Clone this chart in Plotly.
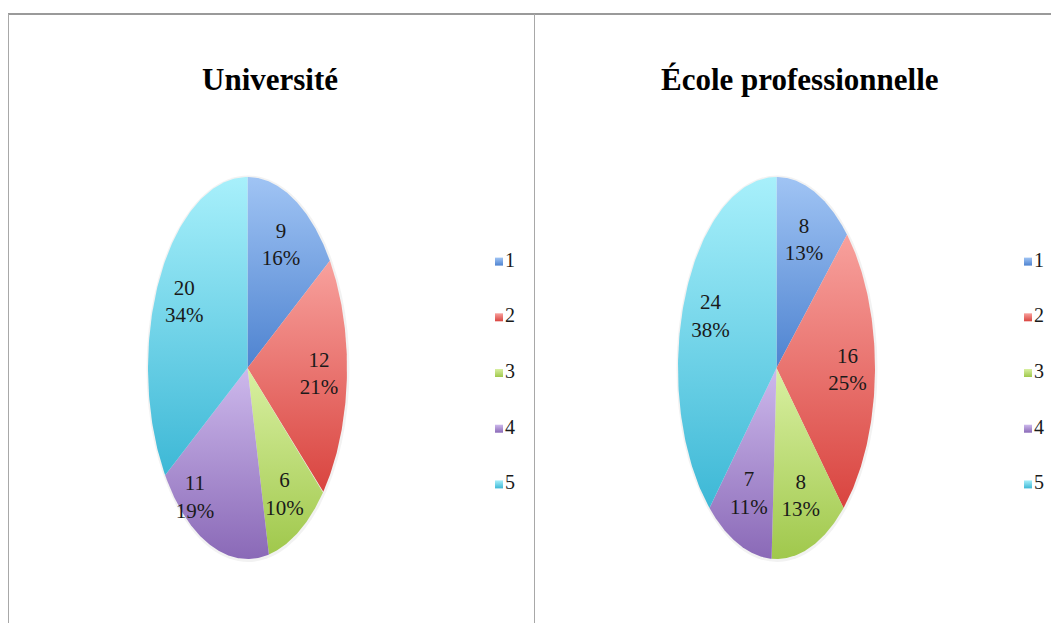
import numpy as np
import plotly.graph_objects as go

# ---------------- data ----------------
categories = ["1", "2", "3", "4", "5"]
universite = [9, 12, 6, 11, 20]
ecole = [8, 16, 8, 7, 24]
titles = ["Université", "École professionnelle"]

# ---------------- style / layout ----------------
W, H = 1051, 623
light = ["#A0C4F4", "#F8A19D", "#D9F0A2", "#CDB9EC", "#A8F0FB"]
dark = ["#4E83D0", "#D9443F", "#A0C84C", "#8A69B7", "#3DB8D6"]
pies = [
    dict(cx=247.5, cy=368, rx=99.5, ry=191, title_x=270, legend_x=499),
    dict(cx=776.5, cy=368, rx=98.5, ry=191, title_x=800, legend_x=1028),
]
label_r = 0.72
label_shift = {(0, 2): (0, 10), (0, 3): (-26, 3)}  # pixel nudges for crowded labels
legend_cy, legend_step = 373, 55.7
font_family = "Liberation Serif"

fig = go.Figure()

for p_i, (vals, geo) in enumerate(zip([universite, ecole], pies)):
    total = sum(vals)
    cx, cy, rx, ry = geo["cx"], geo["cy"], geo["rx"], geo["ry"]
    # soft shadow
    fig.add_shape(type="circle", xref="x", yref="y",
                  x0=cx - rx - 1.5, x1=cx + rx + 2.5, y0=cy - ry - 1.5, y1=cy + ry + 3,
                  fillcolor="rgba(0,0,0,0.05)", line_width=0, layer="below")
    cum = 0.0
    lx, ly, ltxt = [], [], []
    for s_i, v in enumerate(vals):
        a0 = cum / total * 2 * np.pi
        a1 = (cum + v) / total * 2 * np.pi
        t = np.linspace(a0, a1, 120)
        xs = np.concatenate([[cx], cx + rx * np.sin(t), [cx]])
        ys = np.concatenate([[cy], cy - ry * np.cos(t), [cy]])
        fig.add_trace(go.Scatter(
            x=xs, y=ys, mode="lines", fill="toself",
            line=dict(width=0, color=dark[s_i]),
            fillcolor=dark[s_i],
            fillgradient=dict(type="vertical",
                              colorscale=[[0, dark[s_i]], [1, light[s_i]]]),
            hoverinfo="skip", showlegend=False))
        am = (a0 + a1) / 2
        dx, dy = label_shift.get((p_i, s_i), (0, 0))
        lx.append(cx + label_r * rx * np.sin(am) + dx)
        ly.append(cy - label_r * ry * np.cos(am) + dy)
        ltxt.append(f"{v}<br>{round(v / total * 100)}%")
        cum += v
    fig.add_trace(go.Scatter(
        x=lx, y=ly, mode="text", text=ltxt, textposition="middle center",
        textfont=dict(family=font_family, size=21, color="#1a1a1a"),
        hoverinfo="skip", showlegend=False))

    # legend
    n = len(categories)
    gy = [legend_cy + (i - (n - 1) / 2) * legend_step for i in range(n)]
    fig.add_trace(go.Scatter(
        x=[geo["legend_x"]] * n, y=gy, mode="markers+text",
        text=categories, textposition="middle right",
        textfont=dict(family=font_family, size=20, color="#1a1a1a"),
        marker=dict(symbol="square", size=8, color=light,
                    gradient=dict(type="vertical", color=dark),
                    line=dict(width=0)),
        hoverinfo="skip", showlegend=False))

    # title
    fig.add_annotation(x=geo["title_x"], y=79, xref="x", yref="y",
                       text=f"<b>{titles[p_i]}</b>", showarrow=False,
                       font=dict(family=font_family, size=31, color="#000000"))

# frame lines
fig.add_shape(type="line", xref="x", yref="y", x0=8, x1=W, y0=14, y1=14,
              line=dict(color="#9a9a9a", width=2))
fig.add_shape(type="line", xref="x", yref="y", x0=8.5, x1=8.5, y0=14, y1=H,
              line=dict(color="#a8a8a8", width=1))
fig.add_shape(type="line", xref="x", yref="y", x0=534.5, x1=534.5, y0=14, y1=H,
              line=dict(color="#a8a8a8", width=1))

fig.update_xaxes(range=[0, W], visible=False, fixedrange=True)
fig.update_yaxes(range=[H, 0], visible=False, fixedrange=True)
fig.update_layout(width=W, height=H, margin=dict(l=0, r=0, t=0, b=0),
                  paper_bgcolor="white", plot_bgcolor="white",
                  showlegend=False, hovermode=False)

fig.write_html("out.html",
               config={"displayModeBar": False},
               post_script="document.body.style.margin='0';"
                           "document.body.style.overflow='hidden';")
